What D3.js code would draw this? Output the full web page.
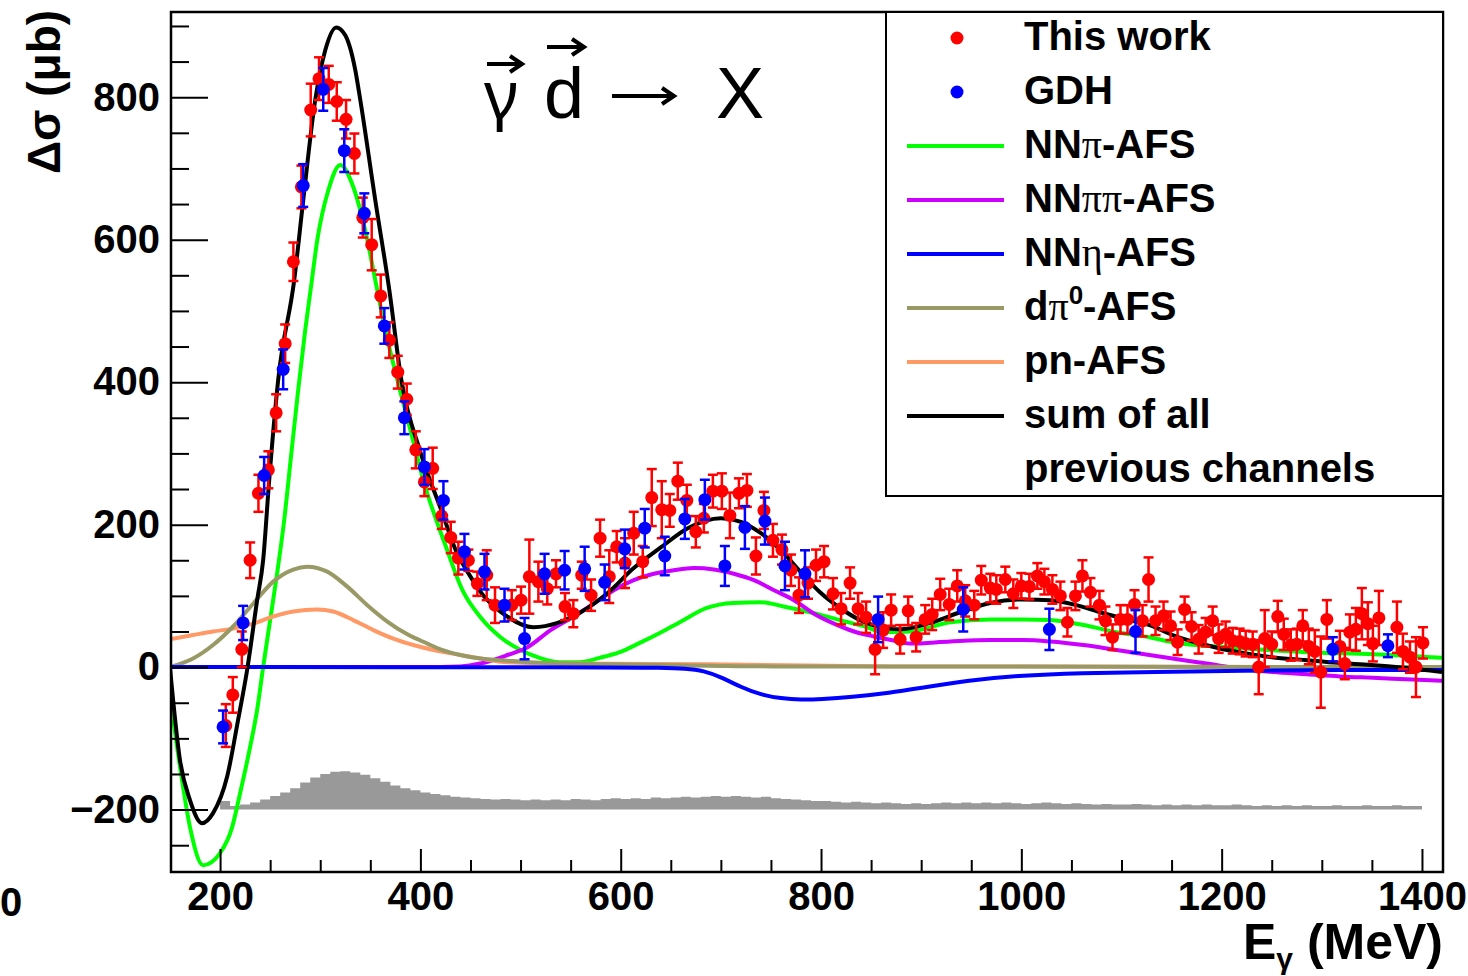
<!DOCTYPE html>
<html><head><meta charset="utf-8">
<script src="https://cdn.jsdelivr.net/npm/d3@7"></script>
<style>
body{margin:0;background:#fff;}
svg{display:block;}
</style>
</head><body>
<svg id="c" width="1468" height="976"></svg>
<script>
// ---------------- DATA ----------------
// "This work" points: energy (MeV), delta sigma (mub), error (mub)
const thisWorkE = [205.7,212.7,221.7,230,238.3,248.2,256,265,273.2,281.2,290.5,298.8,308.5,316.5,325.8,334.1,342.5,351.4,360.4,369,377.4,386.4,395.4,404,412.3,421.3,430.3,437.9,447.9,456.9,466.2,474.5,491.2,500.5,508.8,517.8,526.7,535.4,544.4,552.7,561.1,570.4,579.4,588.6,596,604.3,613,622,631,641,649,657,666,675,683,692,701,709,718,726,735,743,752,761,770,778,787,795,803,812,820,829,837,845,854,862,870,879,887,895,904,911,919,928,936,944,953,960,969,975,984,992,1000,1008,1016,1023,1031,1039,1046,1054,1061,1069,1078,1084,1091,1099,1106,1113,1121,1127,1134,1142,1149,1156,1163,1170,1177,1184,1191,1197,1204,1211,1218,1224,1231,1237,1243,1250,1256,1262,1269,1275,1281,1287,1293,1299,1305,1318,1323,1328,1334,1340,1346,1351,1357,1375,1381,1388,1394,1401];
const thisWorkVal = [-82,-39,25,150,244,277,357,454,569,674,782,826,818,794,769,721,631,593,521,459,414,376,305,260,279,212,182,153,150,117,129,87,87,94,127,120,110,131,85,75,129,101,181,127,169,146,188,148,238,221,220,261,234,190,209,247,247,213,244,248,156,220,178,165,136,101,118,143,148,103,82,118,82,70,25,52,80,39,79,42,67,74,102,88,114,93,87,122,111,109,123,103,114,113,128,120,109,100,63,100,128,105,87,65,42,67,67,88,65,123,65,72,58,35,81,57,39,49,65,40,46,37,36,33,32,0,40,32,71,46,31,32,58,29,22,-7,67,29,5,49,53,75,61,33,69,56,22,14,0,34];
const thisWorkErr = [30,25,25,25,26,26,26,27,27,30,37,30,26,27,27,28,28,36,30,25,23,22,26,20,29,18,22,23,15,17,35,25,21,19,52,28,22,19,19,19,19,22,26,37,22,35,30,22,40,40,23,26,22,22,20,23,25,32,21,23,26,26,23,21,22,25,22,22,22,22,22,22,22,22,35,25,22,20,20,20,20,22,22,22,22,22,20,20,20,20,18,20,18,18,18,18,20,20,20,20,22,20,20,20,18,20,20,20,22,31,20,20,20,18,18,20,20,20,20,20,18,18,18,18,18,38,40,18,22,22,22,22,22,25,30,50,27,22,22,25,30,36,30,25,38,36,25,22,42,22];

// GDH points
const gdhE = [203,223,244,263,283,303,324,344,364,384,404,423,444,464,484,504,524,544,564,584,604,624,644,664,684,704,724,744,764,784,857,942,1028,1114,1311,1366];
const gdhVal = [-84,62,269,418,676,811,725,637,479,350,281,234,162,134,87,40,131,136,138,119,166,195,156,208,235,142,196,205,142,131,67,81,53,50,25,30];
const gdhErr = [23,24,26,28,30,30,30,28,25,23,25,27,25,25,23,29,28,27,31,25,27,27,27,28,28,28,30,33,34,33,32,31,29,30,17,16];

// Model curves (sampled from the figure)
const nnPiE   = [150,160,170,183,200,212,220,230,237,243,250,257,264,271,278,285,291,297,308,320,333,346,355,365,377,390,403,425,442,460,480,500,519,539,559,579,599,619,639,659,686,712,739,766,792,819,846,862,889,929,969,1002,1029,1062,1095,1128,1151,1218,1285,1351,1420];
const nnPiVal = [-40,-140,-225,-278,-261,-225,-177,-112,-60,0,66,132,206,298,389,473,536,599,669,705,674,606,543,473,403,333,262,171,108,70,42,24,13,7,7,13,21,34,48,63,83,90,91,84,76,66,56,49,50,63,67,67,66,59,49,42,35,27,21,18,13];

const nnPiPiE   = [150,400,440,460,487,507,530,553,573,593,613,633,653,673,693,713,733,753,773,793,813,833,853,870,889,929,969,1002,1029,1062,1095,1118,1151,1185,1218,1251,1285,1318,1351,1384,1420];
const nnPiPiVal = [0,0,1,5,17,28,52,71,89,108,122,131,136,139,137,131,122,108,94,75,61,50,43,38,33,36,38,38,36,31,24,19,12,5,-2,-7,-10,-13,-15,-17,-19];

const nnEtaE   = [150,600,640,665,683,700,720,740,760,780,800,830,869,900,945,995,1060,1130,1220,1320,1420];
const nnEtaVal = [0,0,-1,-2,-5,-14,-28,-39,-44,-46,-45,-42,-36,-29,-19,-12,-8,-7,-5,-4,-4];

const dPi0E   = [150,173,193,213,233,253,273,287,307,327,347,367,387,407,420,440,460,487,520,587,687,753,870,1420];
const dPi0Val = [0,12,31,57,89,120,137,141,134,113,87,64,46,33,25,17,12,9,6,4,2,1,1,0];

const pnE   = [150,173,193,213,233,253,273,297,313,333,353,373,393,413,440,460,487,553,687,870,1420];
const pnVal = [39,45,50,54,61,71,78,81,78,66,52,40,31,24,17,12,7,5,4,1,0];

const sumE   = [150,160,170,182,193,207,218,227,237,243,249,258,274,283,295,305,316,325,335,340,355,369,381,400,422,435,450,462,480,513,537,560,587,613,640,667,700,720,740,760,780,799,819,839,852,879,909,939,969,1002,1029,1055,1081,1108,1128,1151,1184,1217,1250,1283,1316,1349,1382,1420];
const sumVal = [-1,-131,-187,-219,-205,-154,-74,-4,94,150,262,403,543,655,796,866,898,887,838,796,655,529,403,302,216,165,127,102,78,56,62,77,104,139,168,195,209,204,188,164,133,105,83,66,59,53,62,77,90,95,94,87,76,66,59,45,31,21,14,10,6,3,-1,-7];

// Systematic-error histogram (10 MeV bins), heights above sysBase
const sysBase = -200;
const sysBinE = [200,210,220,230,240,250,260,270,280,290,300,310,320,330,340,350,360,370,380,390,400,410,420,430,440,450,460,470,480,490,500,510,520,530,540,550,560,570,580,590,600,610,620,630,640,650,660,670,680,690,700,710,720,730,740,750,760,770,780,790,800,810,820,830,840,850,860,870,880,890,900,910,920,930,940,950,960,970,980,990,1000,1010,1020,1030,1040,1050,1060,1070,1080,1090,1100,1110,1120,1130,1140,1150,1160,1170,1180,1190,1200,1210,1220,1230,1240,1250,1260,1270,1280,1290,1300,1310,1320,1330,1340,1350,1360,1370,1380,1390,1400];
const sysH = [12,5,7,10,14,19,24,30,38,45,50,53,54,52,49,44,39,34,30,27,24,22,20,18,17,16,15,14,15,14,13,14,13,14,13,15,14,13,15,16,15,16,15,17,16,17,18,17,18,19,18,19,18,17,18,16,15,14,13,12,12,11,10,11,10,9,10,9,8,9,8,9,10,9,10,9,10,9,10,9,8,9,10,9,8,9,8,7,8,7,7,8,7,6,7,6,7,6,7,6,6,7,6,5,6,5,6,5,6,5,5,6,5,5,6,5,5,6,5,5,5];

const yMajorTicks = [-200,0,200,400,600,800];
const xMajorTicks = [200,400,600,800,1000,1200,1400];

const legendItems = [
  {type:"dot", color:"#ff0000", label:[["This work","b"]]},
  {type:"dot", color:"#0000ff", label:[["GDH","b"]]},
  {type:"line", color:"#00ff00", label:[["NN","b"],["π","g"],["-AFS","b"]]},
  {type:"line", color:"#cc00ff", label:[["NN","b"],["ππ","g"],["-AFS","b"]]},
  {type:"line", color:"#0000ff", label:[["NN","b"],["η","g"],["-AFS","b"]]},
  {type:"line", color:"#999966", label:[["d","b"],["π","g"],["0","sup"],["-AFS","b"]]},
  {type:"line", color:"#ff9966", label:[["pn-AFS","b"]]},
  {type:"line", color:"#000000", label:[["sum of all","b"]]},
  {type:"none", color:"none", label:[["previous channels","b"]]}
];

// ---------------- CHART ----------------
const SANS = "'Liberation Sans', Arial, Helvetica, sans-serif";
const SERIF = "'Liberation Serif', 'DejaVu Serif', serif";
const svg = d3.select("#c");
const x = d3.scaleLinear().domain([150, 1421]).range([170, 1443]);
const y = d3.scaleLinear().domain([-289, 921]).range([873, 11]);

svg.append("defs").append("clipPath").attr("id","plotclip")
  .append("rect").attr("x",170).attr("y",11).attr("width",1273).attr("height",862);

const plot = svg.append("g").attr("clip-path","url(#plotclip)");

// histogram
const sysData = sysBinE.map((e,i)=>({e:e, h: sysH[i]}));
plot.append("path")
  .datum(sysData)
  .attr("fill","#999999")
  .attr("d", d3.area().x(d=>x(d.e)).y0(y(sysBase)).y1(d=>y(sysBase + d.h)).curve(d3.curveStepAfter));

// curves
const curves = [
  {E:nnPiE, V:nnPiVal, c:"#00ff00", k:d3.curveMonotoneX},
  {E:nnPiPiE, V:nnPiPiVal, c:"#cc00ff", k:d3.curveMonotoneX},
  {E:pnE, V:pnVal, c:"#ff9966", k:d3.curveMonotoneX},
  {E:dPi0E, V:dPi0Val, c:"#999966", k:d3.curveMonotoneX},
  {E:nnEtaE, V:nnEtaVal, c:"#0000ff", k:d3.curveBasis},
  {E:sumE, V:sumVal, c:"#000000", k:d3.curveMonotoneX}
];
curves.forEach(cv=>{
  const line = d3.line().x(d=>x(d[0])).y(d=>y(d[1])).curve(cv.k);
  plot.append("path").datum(cv.E.map((e,i)=>[e, cv.V[i]]))
    .attr("fill","none").attr("stroke",cv.c).attr("stroke-width",4)
    .attr("stroke-linejoin","round").attr("d", line);
});

// points with error bars
function drawPoints(E, V, Er, color){
  const g = plot.append("g");
  const data = E.map((e,i)=>({e:e, v:V[i], er:Er[i]}));
  const pt = g.selectAll("g").data(data).join("g");
  pt.append("line").attr("x1",d=>x(d.e)).attr("x2",d=>x(d.e))
    .attr("y1",d=>y(d.v-d.er)).attr("y2",d=>y(d.v+d.er))
    .attr("stroke",color).attr("stroke-width",2.5);
  pt.append("line").attr("x1",d=>x(d.e)-5).attr("x2",d=>x(d.e)+5)
    .attr("y1",d=>y(d.v+d.er)).attr("y2",d=>y(d.v+d.er))
    .attr("stroke",color).attr("stroke-width",2.5);
  pt.append("line").attr("x1",d=>x(d.e)-5).attr("x2",d=>x(d.e)+5)
    .attr("y1",d=>y(d.v-d.er)).attr("y2",d=>y(d.v-d.er))
    .attr("stroke",color).attr("stroke-width",2.5);
  pt.append("circle").attr("cx",d=>x(d.e)).attr("cy",d=>y(d.v)).attr("r",6.5).attr("fill",color);
}
drawPoints(thisWorkE, thisWorkVal, thisWorkErr, "#ff0000");
drawPoints(gdhE, gdhVal, gdhErr, "#0000ff");

// axes
const fmt = d => d < 0 ? "\u2212" + Math.abs(d) : String(d);
function styleAxis(g){
  g.select(".domain").remove();
  g.attr("font-family", null).attr("font-size", null);
  g.selectAll("line").attr("stroke","#000").attr("stroke-width",2);
  g.selectAll("text").attr("font-family",SANS).attr("font-weight","bold")
    .attr("font-size",40).attr("fill","#000");
}
const yMinor = d3.range(-250, 901, 50).filter(v => yMajorTicks.indexOf(v) < 0);
styleAxis(svg.append("g").attr("transform","translate(171,0)")
  .call(d3.axisLeft(y).tickValues(yMinor).tickSizeInner(-18).tickSizeOuter(0).tickFormat("")));
styleAxis(svg.append("g").attr("transform","translate(171,0)")
  .call(d3.axisLeft(y).tickValues(yMajorTicks).tickSizeInner(-37).tickSizeOuter(0).tickPadding(11).tickFormat(fmt)));

const xMinor = d3.range(250, 1401, 50).filter(v => xMajorTicks.indexOf(v) < 0);
styleAxis(svg.append("g").attr("transform","translate(0,872)")
  .call(d3.axisBottom(x).tickValues(xMinor).tickSizeInner(-12).tickSizeOuter(0).tickFormat("")));
styleAxis(svg.append("g").attr("transform","translate(0,872)")
  .call(d3.axisBottom(x).tickValues(xMajorTicks).tickSizeInner(-23).tickSizeOuter(0).tickPadding(10).tickFormat(fmt)));

// frame
svg.append("rect").attr("x",171).attr("y",12).attr("width",1272).attr("height",860)
  .attr("fill","none").attr("stroke","#000").attr("stroke-width",2.5);

// legend
const lg = svg.append("g");
lg.append("rect").attr("x",886).attr("y",12).attr("width",557).attr("height",484)
  .attr("fill","#fff").attr("stroke","#000").attr("stroke-width",2);
legendItems.forEach((it,i)=>{
  const my = 38 + i*54;
  if(it.type==="dot"){
    lg.append("circle").attr("cx",957).attr("cy",my).attr("r",6.5).attr("fill",it.color);
  } else if(it.type==="line"){
    lg.append("line").attr("x1",907).attr("x2",1004).attr("y1",my).attr("y2",my)
      .attr("stroke",it.color).attr("stroke-width",4);
  }
  const t = lg.append("text").attr("x",1024).attr("y",50 + i*54).attr("font-size",40).attr("fill","#000");
  let afterSup = false;
  it.label.forEach(p=>{
    const ts = t.append("tspan").text(p[0]);
    if(p[1]==="b") ts.attr("font-family",SANS).attr("font-weight","bold");
    else if(p[1]==="g") ts.attr("font-family",SERIF).attr("font-weight","normal");
    if(p[1]==="sup"){
      ts.attr("font-family",SANS).attr("font-weight","bold").attr("font-size",26).attr("dy",-16);
      afterSup = true;
    } else if(afterSup){
      ts.attr("dy",16); afterSup = false;
    }
  });
});

// reaction label
const rx = svg.append("g");
rx.append("text").attr("x",484).attr("y",118).attr("font-family","'Noto Sans', 'DejaVu Sans', sans-serif").attr("font-size",66).text("\u03B3");
rx.append("text").attr("x",544).attr("y",118).attr("font-family",SANS).attr("font-size",72).text("d");
rx.append("text").attr("x",716).attr("y",118).attr("font-family",SANS).attr("font-size",72).text("X");
function arrow(x1,x2,yy){
  rx.append("line").attr("x1",x1).attr("x2",x2-2).attr("y1",yy).attr("y2",yy).attr("stroke","#000").attr("stroke-width",4);
  rx.append("path").attr("d",`M${x2-12},${yy-8} L${x2},${yy} L${x2-12},${yy+8}`)
    .attr("fill","none").attr("stroke","#000").attr("stroke-width",4).attr("stroke-linejoin","miter");
}
arrow(487,522,64);
arrow(547,584,47);
arrow(612,674,96);

// axis titles
svg.append("text").attr("transform","translate(60,92) rotate(-90)")
  .attr("text-anchor","middle").attr("font-family",SANS).attr("font-weight","bold").attr("font-size",46)
  .text("\u0394\u03C3 (\u03BCb)");
const xt = svg.append("text").attr("x",1443).attr("y",959).attr("text-anchor","end")
  .attr("font-family",SANS).attr("font-weight","bold").attr("font-size",50);
xt.append("tspan").text("E");
xt.append("tspan").attr("font-size",30).attr("dy",10).text("\u03B3");
xt.append("tspan").attr("dy",-10).text(" (MeV)");

// stray label at bottom-left
svg.append("text").attr("x",0).attr("y",916).attr("font-family",SANS).attr("font-weight","bold")
  .attr("font-size",40).text("0");
</script>
</body></html>
